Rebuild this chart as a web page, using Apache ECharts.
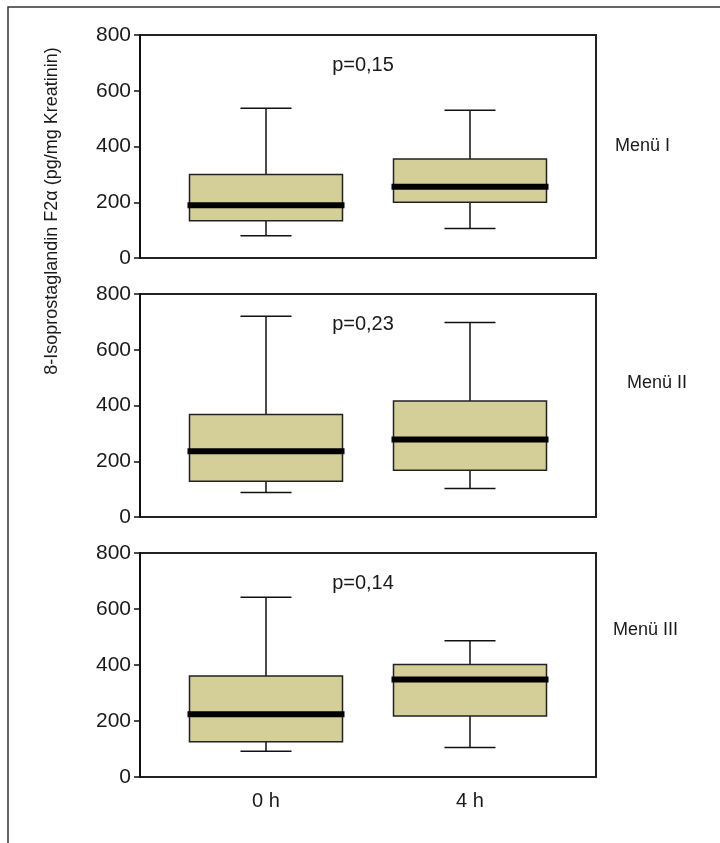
<!DOCTYPE html>
<html>
<head>
<meta charset="utf-8">
<script src="https://cdn.jsdelivr.net/npm/echarts@6/dist/echarts.min.js"></script>
<style>
  html, body { margin: 0; padding: 0; background: #ffffff; }
  #chart { width: 720px; height: 843px; }
</style>
</head>
<body>
<div id="chart"></div>
<script>
// Time points on the x axis
const categories = ['0 h', '4 h'];
// Panel names and p-values
const menuLabels = ['Menü I', 'Menü II', 'Menü III'];
const pValues = ['p=0,15', 'p=0,23', 'p=0,14'];
// Box statistics per time point: [min, Q1, median, Q3, max]
const menu1 = [[80, 134, 189, 300, 537], [106, 200, 256, 355, 530]];
const menu2 = [[88, 128, 236, 368, 720], [102, 168, 278, 416, 698]];
const menu3 = [[92, 126, 224, 361, 642], [105, 218, 348, 402, 487]];
// Y scale
const yMin = 0, yMax = 800, yStep = 200;
const yTitle = '8-Isoprostaglandin F2\u03b1 (pg/mg Kreatinin)';

const panels = [menu1, menu2, menu3];
const FONT = 'Liberation Sans, Arial, sans-serif';
const TEXT = '#1a1a1a';
const BOX_FILL = '#d4ce99';

// panel layout
const frameLeft = 140, frameWidth = 456;
const innerLeft = 164, innerWidth = 408;
const tops = [35, 294, 553];
const heights = [223, 223, 224];

const grids = [], xAxes = [], yAxes = [], series = [];
panels.forEach((stats, i) => {
  // framed grid carrying the visible y axis
  grids.push({ left: frameLeft, width: frameWidth, top: tops[i], height: heights[i],
    show: true, borderColor: '#222', borderWidth: 2, backgroundColor: 'transparent' });
  xAxes.push({ gridIndex: 2 * i, type: 'value', show: false, min: 0, max: 1 });
  yAxes.push({
    gridIndex: 2 * i, type: 'value', min: yMin, max: yMax, interval: yStep,
    axisLine: { show: true, lineStyle: { color: '#111', width: 2 } },
    axisTick: { show: true, length: 6, lineStyle: { color: '#111', width: 1.5 } },
    axisLabel: { color: TEXT, fontFamily: FONT, fontSize: 21, margin: 9 },
    splitLine: { show: false }
  });
  // inner grid holding the boxes
  grids.push({ left: innerLeft, width: innerWidth, top: tops[i], height: heights[i] });
  xAxes.push({
    gridIndex: 2 * i + 1, type: 'category', data: categories,
    axisLine: { show: false }, axisTick: { show: false },
    axisLabel: { show: i === 2, color: TEXT, fontFamily: FONT, fontSize: 20, margin: 14 }
  });
  yAxes.push({ gridIndex: 2 * i + 1, type: 'value', min: yMin, max: yMax, interval: yStep, show: false });

  series.push({
    type: 'custom',
    xAxisIndex: 2 * i + 1,
    yAxisIndex: 2 * i + 1,
    data: stats.map((s, k) => [k].concat(s)),
    encode: { x: 0, y: [1, 2, 3, 4, 5] },
    renderItem: function (params, api) {
      const k = api.value(0);
      const lo = api.coord([k, api.value(1)]);
      const q1 = api.coord([k, api.value(2)]);
      const md = api.coord([k, api.value(3)]);
      const q3 = api.coord([k, api.value(4)]);
      const hi = api.coord([k, api.value(5)]);
      const band = api.size([1, 0])[0];
      const half = band * 0.375;
      const cap = band * 0.125;
      const cx = lo[0];
      const thin = { stroke: '#111', lineWidth: 1.5 };
      return {
        type: 'group',
        children: [
          { type: 'line', shape: { x1: cx, y1: q3[1], x2: cx, y2: hi[1] }, style: thin },
          { type: 'line', shape: { x1: cx - cap, y1: hi[1], x2: cx + cap, y2: hi[1] }, style: thin },
          { type: 'line', shape: { x1: cx, y1: q1[1], x2: cx, y2: lo[1] }, style: thin },
          { type: 'line', shape: { x1: cx - cap, y1: lo[1], x2: cx + cap, y2: lo[1] }, style: thin },
          { type: 'rect', shape: { x: cx - half, y: q3[1], width: half * 2, height: q1[1] - q3[1] },
            style: { fill: BOX_FILL, stroke: '#222', lineWidth: 1.5 } },
          { type: 'line', shape: { x1: cx - half - 2, y1: md[1], x2: cx + half + 2, y2: md[1] },
            style: { stroke: '#000', lineWidth: 6 } }
        ]
      };
    }
  });
});

const graphics = [
  // outer figure frame (top and left edges)
  { type: 'polyline', shape: { points: [[8, 843], [8, 7], [720, 7]] },
    style: { stroke: '#333', lineWidth: 1.5, fill: null }, silent: true },
  { type: 'text', x: 52, y: 211, rotation: Math.PI / 2,
    style: { text: yTitle, fill: TEXT, font: '18px ' + FONT, textAlign: 'center', textVerticalAlign: 'middle' } }
];
const menuPos = [[615, 146], [627, 383], [613, 630]];
panels.forEach((_, i) => {
  graphics.push({ type: 'text', x: 363, y: tops[i] + 30,
    style: { text: pValues[i], fill: TEXT, font: '20px ' + FONT, textAlign: 'center', textVerticalAlign: 'middle' } });
  graphics.push({ type: 'text', x: menuPos[i][0], y: menuPos[i][1],
    style: { text: menuLabels[i], fill: TEXT, font: '18px ' + FONT, textAlign: 'left', textVerticalAlign: 'middle' } });
});

const chart = echarts.init(document.getElementById('chart'), null, { renderer: 'canvas' });
chart.setOption({
  backgroundColor: '#ffffff',
  animation: false,
  grid: grids,
  xAxis: xAxes,
  yAxis: yAxes,
  series: series,
  graphic: graphics
});
</script>
</body>
</html>
